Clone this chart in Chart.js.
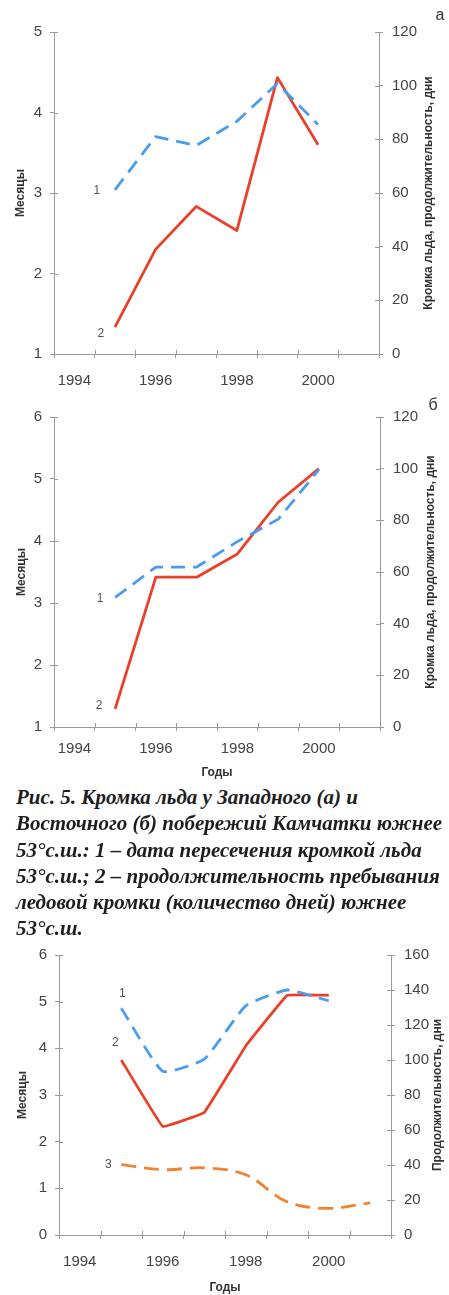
<!DOCTYPE html>
<html><head><meta charset="utf-8">
<script src="https://cdn.jsdelivr.net/npm/chart.js@4.4.1/dist/chart.umd.min.js"></script>
<style>
html,body{margin:0;padding:0;background:#fff;width:449px;height:1295px;overflow:hidden;position:relative;}
canvas{position:absolute;left:0;}
.cap{position:absolute;left:16px;font-family:"Liberation Serif","Times New Roman",serif;font-weight:bold;font-style:italic;font-size:21px;color:#1e1e1e;white-space:nowrap;line-height:1;}
</style></head><body>
<canvas id="ca"></canvas>
<canvas id="cb"></canvas>
<canvas id="cc"></canvas>
<div class="cap" style="top:787px">Рис. 5. Кромка льда у Западного (а) и</div>
<div class="cap" style="top:813px">Восточного (б) побережий Камчатки южнее</div>
<div class="cap" style="top:840px">53°с.ш.: 1 – дата пересечения кромкой льда</div>
<div class="cap" style="top:866px">53°с.ш.; 2 – продолжительность пребывания</div>
<div class="cap" style="top:892px">ледовой кромки (количество дней) южнее</div>
<div class="cap" style="top:918px">53°с.ш.</div>
<script>
// ---- data ----
const years = ['1994','1995','1996','1997','1998','1999','2000','2001'];
// (а) Western coast
const westCrossMonths = [null, 3.04, 3.70, 3.59, 3.89, 4.36, 3.85, null];
const westDurationDays = [null, 10, 39, 55, 46, 103, 78, null];
// (б) Eastern coast
const eastCrossMonths = [null, 3.09, 3.58, 3.58, 3.99, 4.35, 5.15, null];
const eastDurationDays = [null, 7, 58, 58, 67, 87, 100, null];
// third chart
const thirdSeries1Months = [null, 4.86, 3.51, 3.77, 4.91, 5.25, 5.02, null];
const thirdSeries2Days = [null, 100, 62, 70, 108, 137, 137, null];
const thirdSeries3Months = [null, 1.51, 1.40, 1.44, 1.29, 0.71, 0.57, 0.69];

const BLUE = '#4a9cf0', RED = '#e8402a', ORANGE = '#f08232';
const AXIS = '#9a9a9a', TXT = '#444';
Chart.defaults.font.family = '"Liberation Sans", Arial, sans-serif';

const extras = {
  id: 'extras',
  afterDraw(chart, args, o) {
    const ctx = chart.ctx;
    ctx.save();
    // inward halves of the crossing tick marks
    ctx.strokeStyle = AXIS; ctx.lineWidth = 1;
    const xs = chart.scales.x, yl = chart.scales.y, yr = chart.scales.y2;
    ctx.beginPath();
    for (let i = 0; i <= years.length; i++) {
      const px = Math.round(xs.getPixelForValue(i - 0.5)) + 0.5;
      ctx.moveTo(px, xs.top); ctx.lineTo(px, xs.top - 4);
    }
    yl.ticks.forEach((t, i) => {
      const py = Math.round(yl.getPixelForTick(i)) + 0.5;
      ctx.moveTo(yl.right, py); ctx.lineTo(yl.right + 4, py);
    });
    yr.ticks.forEach((t, i) => {
      const py = Math.round(yr.getPixelForTick(i)) + 0.5;
      ctx.moveTo(yr.left, py); ctx.lineTo(yr.left - 4, py);
    });
    ctx.stroke();
    // right axis title, reading bottom to top
    const ca = chart.chartArea;
    ctx.fillStyle = '#333';
    ctx.font = 'bold 12px "Liberation Sans", Arial, sans-serif';
    ctx.textAlign = 'center'; ctx.textBaseline = 'middle';
    ctx.translate(o.rightTitleX, (ca.top + ca.bottom) / 2);
    ctx.rotate(-Math.PI / 2);
    ctx.fillText(o.rightTitle, 0, 0);
    ctx.setTransform(1, 0, 0, 1, 0, 0);
    // panel letter
    if (o.letter) {
      ctx.font = '16px "Liberation Sans", Arial, sans-serif';
      ctx.fillStyle = '#333';
      ctx.fillText(o.letter[0], o.letter[1], o.letter[2]);
    }
    // series numbers beside the first point of each line
    ctx.font = '12px "Liberation Sans", Arial, sans-serif';
    ctx.fillStyle = '#555';
    chart.data.datasets.forEach((ds, di) => {
      const meta = chart.getDatasetMeta(di);
      const idx = ds.data.findIndex(v => v !== null);
      const el = meta.data[idx];
      const off = o.tagOffsets[di];
      ctx.fillText(ds.label, el.x + off[0], el.y + off[1]);
    });
    ctx.restore();
  }
};
Chart.register(extras);

function makeChart(id, p) {
  const cv = document.getElementById(id);
  const W = 449;
  cv.width = W; cv.height = p.height;
  cv.style.top = p.top + 'px'; cv.style.width = W + 'px'; cv.style.height = p.height + 'px';
  const A = p.area;
  return new Chart(cv, {
    type: 'line',
    data: { labels: years, datasets: p.datasets },
    options: {
      responsive: false, animation: false, devicePixelRatio: 1,
      layout: { padding: { top: A.t - p.top, left: 0, right: 0, bottom: 0 } },
      plugins: { legend: { display: false }, tooltip: { enabled: false },
        extras: p.extras },
      elements: { point: { radius: 0 }, line: { borderWidth: 2.8, borderCapStyle: 'butt', borderJoinStyle: 'round' } },
      scales: {
        x: {
          type: 'category', offset: true,
          grid: { offset: true, drawOnChartArea: false, color: AXIS, tickLength: 4 },
          border: { color: AXIS },
          ticks: { autoSkip: false, maxRotation: 0, color: TXT, font: { size: 15 }, padding: p.xPad,
            callback(v, i) { return i % 2 === 0 ? this.getLabelForValue(v) : ''; } },
          title: p.xTitle ? { display: true, text: 'Годы', color: '#333', font: { size: 12, weight: 'bold' }, padding: { top: 0, bottom: p.xTitlePad } } : { display: false },
          afterFit(s) { s.height = p.top + p.height - A.b; }
        },
        y: {
          position: 'left', min: p.yMin, max: p.yMax,
          ticks: { stepSize: 1, color: TXT, font: { size: 15 }, padding: p.yPad },
          grid: { drawOnChartArea: false, color: AXIS, tickLength: 4 },
          border: { color: AXIS },
          title: { display: true, text: 'Месяцы', color: '#333', font: { size: 12, weight: 'bold' }, padding: { top: p.yTitleX - 7, bottom: 0 } },
          afterFit(s) { s.width = A.l; }
        },
        y2: {
          position: 'right', min: 0, max: p.y2Max,
          ticks: { stepSize: 20, color: TXT, font: { size: 15 }, padding: 9 },
          grid: { drawOnChartArea: false, color: AXIS, tickLength: 4 },
          border: { color: AXIS },
          afterFit(s) { s.width = W - A.r; }
        }
      }
    }
  });
}

makeChart('ca', {
  top: 0, height: 394, area: { l: 54, r: 379, t: 32, b: 354 },
  yMin: 1, yMax: 5, y2Max: 120, xPad: 14, yPad: 8, yTitleX: 20, xTitle: false,
  datasets: [
    { label: '1', data: westCrossMonths, yAxisID: 'y', borderColor: BLUE, borderDash: [14, 8] },
    { label: '2', data: westDurationDays, yAxisID: 'y2', borderColor: RED }
  ],
  extras: { rightTitle: 'Кромка льда, продолжительность, дни', rightTitleX: 429,
    letter: ['а', 440, 16], tagOffsets: [[-18, 1], [-14, 7]] }
});

makeChart('cb', {
  top: 394, height: 391, area: { l: 54, r: 380, t: 417, b: 727 },
  yMin: 1, yMax: 6, y2Max: 120, xPad: 9, yPad: 8, yTitleX: 21, xTitle: true, xTitlePad: 5,
  datasets: [
    { label: '1', data: eastCrossMonths, yAxisID: 'y', borderColor: BLUE, borderDash: [14, 8] },
    { label: '2', data: eastDurationDays, yAxisID: 'y2', borderColor: RED }
  ],
  extras: { rightTitle: 'Кромка льда, продолжительность, дни', rightTitleX: 431,
    letter: ['б', 433, 12 ], tagOffsets: [[-15, 1], [-16, -3]] }
});

makeChart('cc', {
  top: 937, height: 358, area: { l: 59, r: 391, t: 946, b: 1235 },
  yMin: 0, yMax: 6, y2Max: 160, xPad: 14, yPad: 8, yTitleX: 22, xTitle: true, xTitlePad: 0,
  datasets: [
    { label: '1', data: thirdSeries1Months, yAxisID: 'y', borderColor: BLUE, borderDash: [14, 8], tension: 0.15 },
    { label: '2', data: thirdSeries2Days, yAxisID: 'y2', borderColor: RED, tension: 0.05 },
    { label: '3', data: thirdSeries3Months, yAxisID: 'y', borderColor: ORANGE, borderDash: [15, 8], tension: 0.35 }
  ],
  extras: { rightTitle: 'Продолжительность, дни', rightTitleX: 438,
    letter: null, tagOffsets: [[1, -15], [-6, -17], [-13, 0]] }
});
</script>
</body></html>
